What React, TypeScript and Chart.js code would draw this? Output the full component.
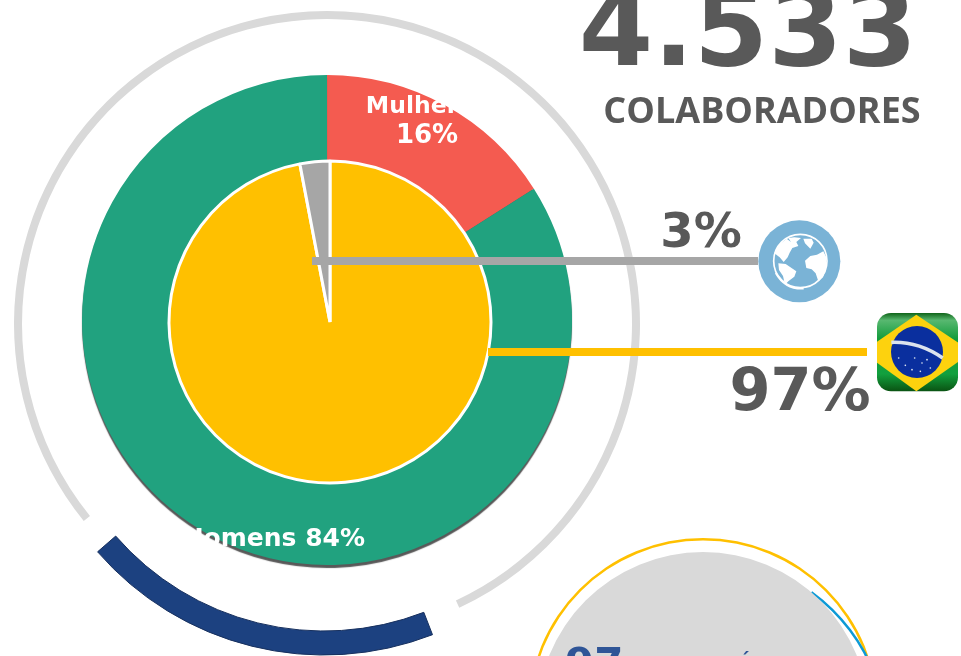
import React, { useEffect, useRef } from "react";
import { Chart, registerables } from "chart.js";

Chart.register(...registerables);

const genderLabels = ["Mulheres", "Homens"];
const genderValues = [16, 84];
const genderColors = ["#f45b50", "#21a27f"];

const originLabels = ["Brasil", "Exterior"];
const originValues = [97, 3];
const originColors = ["#ffc000", "#a6a6a6"];

const ringLabels = ["Arco", "Vazio"];
const grayRingValues = [284, 76];
const blueRingValues = [70.2, 289.8];
const smallArcValues = [34, 326];
const baseValues = [1];

const shadowPlugin = {
  id: "softShadow",
  beforeDatasetsDraw(chart: any, _a: any, opts: any) {
    if (!opts || !opts.on) return;
    const c = chart.ctx;
    c.save();
    c.shadowColor = "rgba(89,89,89,1)";
    c.shadowBlur = 1;
    c.shadowOffsetY = 3;
  },
  afterDatasetsDraw(chart: any, _a: any, opts: any) {
    if (!opts || !opts.on) return;
    chart.ctx.restore();
  },
};

type RingProps = {
  cx: number;
  cy: number;
  r: number;
  inner?: number;
  labels: string[];
  values: number[];
  colors: string[];
  rotation?: number;
  borderColor?: string | string[];
  borderWidth?: number;
  shadow?: boolean;
  z?: number;
};

function Ring({ cx, cy, r, inner = 0, labels, values, colors, rotation = 0, borderColor = "transparent", borderWidth = 0, shadow = false, z = 1 }: RingProps) {
  const ref = useRef<HTMLCanvasElement>(null);
  const half = r + 8;
  useEffect(() => {
    if (!ref.current) return;
    const chart = new Chart(ref.current, {
      type: "doughnut",
      data: {
        labels,
        datasets: [{ data: values, backgroundColor: colors, borderColor, borderWidth, hoverOffset: 0 }],
      },
      options: {
        animation: false,
        responsive: false,
        rotation,
        radius: r,
        cutout: `${(inner / r) * 100}%`,
        events: [],
        layout: { padding: 0 },
        plugins: { legend: { display: false }, tooltip: { enabled: false }, softShadow: { on: shadow } },
      } as any,
      plugins: [shadowPlugin],
    });
    return () => chart.destroy();
  }, []);
  return (
    <canvas
      ref={ref}
      width={half * 2}
      height={half * 2}
      style={{ position: "absolute", left: cx - half, top: cy - half, width: half * 2, height: half * 2, zIndex: z }}
    />
  );
}

const dejavu = "'DejaVu Sans', Verdana, sans-serif";

function Label({ text, x, y, size, color, align = "left", family = dejavu, z = 10 }: any) {
  const style: React.CSSProperties = {
    position: "absolute",
    top: y,
    fontFamily: family,
    fontWeight: 700,
    fontSize: size,
    lineHeight: 1,
    color,
    whiteSpace: "nowrap",
    zIndex: z,
  };
  if (align === "center") {
    style.left = x;
    style.transform = "translateX(-50%)";
  } else if (align === "right") {
    style.right = 961 - x;
  } else {
    style.left = x;
  }
  return <div style={style}>{text}</div>;
}

function Globe() {
  return (
    <svg width="90" height="90" viewBox="0 0 270 270" style={{ position: "absolute", left: 755, top: 218, zIndex: 9 }}>
      <circle cx="133" cy="130" r="123" fill="#7ab3d6" />
      <circle cx="136" cy="129" r="80" fill="none" stroke="#ffffff" strokeWidth="5" />
      <path fill="#ffffff" d="M58 105 L72 80 L95 62 L108 72 L100 60 L118 58 L138 60 L124 72 L130 84 L112 90 L104 104 L98 118 L86 132 L74 118 L66 112 Z" />
      <path fill="#ffffff" d="M145 62 L170 62 L176 74 L166 92 L158 84 L150 76 Z" />
      <path fill="#ffffff" d="M150 128 L166 114 L186 110 L205 100 L214 118 L213 150 L204 178 L190 190 L182 166 L170 154 L154 150 Z" />
      <path fill="#ffffff" d="M70 136 L92 138 L124 160 L118 176 L100 190 L90 200 L84 174 L72 156 Z" />
      <path d="M62 165 Q90 215 146 212" fill="none" stroke="#ffffff" strokeWidth="5" />
    </svg>
  );
}

const flagStars = [
  [100, 172], [128, 150], [150, 165], [175, 180], [80, 150], [120, 185], [145, 190], [165, 155],
];

function Flag() {
  return (
    <svg width="89" height="88" viewBox="0 0 267 264" style={{ position: "absolute", left: 872, top: 308, zIndex: 9 }}>
      <defs>
        <clipPath id="flagClip">
          <rect x="15" y="15" width="243" height="235" rx="42" ry="42" />
        </clipPath>
        <linearGradient id="flagGreen" x1="0" y1="0" x2="0" y2="1">
          <stop offset="0.05" stopColor="#0a5e12" />
          <stop offset="0.14" stopColor="#58b870" />
          <stop offset="0.35" stopColor="#139c3c" />
          <stop offset="0.75" stopColor="#12a03e" />
          <stop offset="0.95" stopColor="#0a5212" />
        </linearGradient>
      </defs>
      <g clipPath="url(#flagClip)">
        <rect x="0" y="0" width="267" height="264" fill="url(#flagGreen)" />
        <path d="M133 20 L300 132 L133 250 L-30 132 Z" fill="#fdd20e" />
        <circle cx="135" cy="132" r="78" fill="#0a2f9e" />
        <path d="M58 103 Q140 100 212 150" fill="none" stroke="#dbe3ee" strokeWidth="11" />
        {flagStars.map(([x, y], i) => (
          <circle key={i} cx={x} cy={y} r="2.5" fill="#e6ecf5" />
        ))}
      </g>
    </svg>
  );
}

export default function App() {
  return (
    <div style={{ position: "fixed", left: 0, top: 0, width: 961, height: 656, overflow: "hidden", background: "#fff" }}>
      <Ring cx={327} cy={324} r={313} inner={305} labels={ringLabels} values={grayRingValues} colors={["#d9d9d9", "rgba(0,0,0,0)"]} rotation={231} z={1} />
      <Ring cx={324} cy={355} r={300} inner={276} labels={ringLabels} values={blueRingValues} colors={["#1c4180", "rgba(0,0,0,0)"]} borderColor={["#17305e", "rgba(0,0,0,0)"]} borderWidth={1} rotation={158.8} z={2} />
      <Ring cx={327} cy={320} r={245} labels={genderLabels} values={genderValues} colors={genderColors} shadow z={3} />
      <Ring cx={330} cy={322} r={161} labels={originLabels} values={originValues} colors={originColors} borderColor="#ffffff" borderWidth={3} z={4} />

      <Ring cx={703} cy={713} r={175} inner={172.5} labels={["Contorno"]} values={baseValues} colors={["#ffc000"]} z={1} />
      <Ring cx={704} cy={740} r={184} inner={181.5} labels={ringLabels} values={smallArcValues} colors={["#0d9ad6", "rgba(0,0,0,0)"]} rotation={36} z={3} />
      <Ring cx={703} cy={718} r={166} labels={["Base"]} values={baseValues} colors={["#d9d9d9"]} z={4} />

      <div style={{ position: "absolute", left: 312, top: 257, width: 446, height: 8, background: "#a6a6a6", zIndex: 6 }} />
      <div style={{ position: "absolute", left: 488, top: 348, width: 379, height: 8, background: "#ffc000", zIndex: 6 }} />

      <Label text="4.533" x={748} y={-25} size={107} color="#595959" align="center" />
      <Label text="COLABORADORES" x={762} y={92} size={36} color="#595959" align="center" family="'Open Sans', sans-serif" />
      <Label text="3%" x={701} y={206} size={48} color="#595959" align="center" />
      <Label text="97%" x={800} y={360} size={59} color="#595959" align="center" />
      <Label text="Mulheres" x={427} y={94} size={23.5} color="#ffffff" align="center" />
      <Label text="16%" x={427} y={121} size={26} color="#ffffff" align="center" />
      <Label text="Homens 84%" x={365} y={525} size={25} color="#ffffff" align="right" />
      <Label text="97" x={565} y={643} size={42} color="#2f5597" />
      <Label text="á" x={738} y={650} size={20} color="#2f5597" />

      <Globe />
      <Flag />
    </div>
  );
}
